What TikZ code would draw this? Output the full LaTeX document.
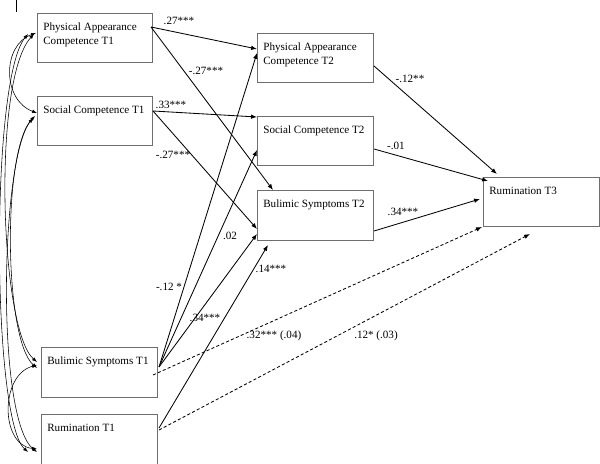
\documentclass[tikz,border=0pt]{standalone}
\usepackage{fontspec}
\setmainfont{Liberation Serif}
\usepackage{tikz}
\usetikzlibrary{arrows.meta}
\definecolor{boxline}{HTML}{6E6E6E}
\definecolor{ink}{HTML}{000000}
\tikzset{
  var/.style={draw=boxline, line width=0.7pt, minimum width=2.875cm, minimum height=1.225cm, anchor=north west, inner sep=0pt},
  vartxt/.style={anchor=north west, align=left, inner sep=0pt, text=ink, font=\fontsize{7.9}{10}\selectfont, xshift=4.3pt, yshift=-6.8pt},
  pth/.style={draw=ink, line width=0.6pt, -{Latex[length=4.2pt,width=3.2pt]}},
  dpth/.style={pth, dash pattern=on 2.2pt off 1.6pt},
  corr/.style={draw=ink, line width=0.4pt, {Latex[length=3.5pt,width=2.6pt]}-{Latex[length=3.5pt,width=2.6pt]}},
  coef/.style={text=ink, font=\fontsize{7.9}{9}\selectfont, inner sep=0.5pt},
}

\begin{document}
\begin{tikzpicture}[x=0.025cm, y=-0.025cm]
  \useasboundingbox (0,0) rectangle (600,464);
  \clip (0,0) rectangle (600,464);

  % T1
  \node[var, label={[vartxt]north west:Physical Appearance\\Competence T1}] (PA1) at (37,13) {};
  \node[var, label={[vartxt]north west:Social Competence T1}] (SC1) at (37,96) {};
  \node[var, minimum width=2.9cm, minimum height=1.25cm, label={[vartxt]north west:Bulimic Symptoms T1}] (BS1) at (41,347) {};
  \node[var, minimum width=2.9cm, minimum height=1.5cm, label={[vartxt]north west:Rumination T1}] (RU1) at (41,414) {};
  % T2
  \node[var, minimum width=2.9cm, label={[vartxt]north west:Physical Appearance\\Competence T2}] (PA2) at (257,33) {};
  \node[var, minimum width=2.9cm, label={[vartxt]north west:Social Competence T2}] (SC2) at (257,116) {};
  \node[var, minimum width=2.9cm, minimum height=1.25cm, label={[vartxt]north west:Bulimic Symptoms T2}] (BS2) at (257,190) {};
  % T3
  \node[var, minimum width=2.9cm, label={[vartxt]north west:Rumination T3}] (RU3) at (483,177) {};

  \draw[draw=ink, line width=0.6pt] (16,0) -- (16,12);

  % T1 -> T2
  \draw[pth] ([shift={(-2,14)}]PA1.north east) -- ([shift={(0,16)}]PA2.north west);
  \draw[pth] ([shift={(-2,14)}]PA1.north east) -- ([shift={(16,0)}]BS2.north west);
  \draw[pth] ([shift={(0,15)}]SC1.north east) -- ([shift={(0,1)}]SC2.north west);
  \draw[pth] ([shift={(0,15)}]SC1.north east) -- ([shift={(0,39)}]BS2.north west);
  \draw[pth] ([shift={(1,20)}]BS1.north east) -- ([shift={(0,20)}]PA2.north west);
  \draw[pth] ([shift={(1,20)}]BS1.north east) -- ([shift={(0,34)}]SC2.north west);
  \draw[pth] ([shift={(1,20)}]BS1.north east) -- ([shift={(0,44)}]BS2.north west);
  \draw[pth] ([shift={(1,14)}]RU1.north east) -- ([shift={(11,4)}]BS2.south west);

  % T2 -> T3
  \draw[pth] ([shift={(0,33)}]PA2.north east) -- ([shift={(14,-3)}]RU3.north west);
  \draw[pth] ([shift={(0,33)}]SC2.north east) -- ([shift={(5,4)}]RU3.north west);
  \draw[pth] ([shift={(0,41)}]BS2.north east) -- ([shift={(-3,22)}]RU3.north west);

  % direct (dashed)
  \draw[dpth] ([shift={(-5,28)}]BS1.north east) -- ([shift={(-1,0)}]RU3.south west);
  \draw[dpth] ([shift={(1,16)}]RU1.north east) -- ([shift={(47,7)}]RU3.south west);

  % T1 correlations
  \draw[corr] ([shift={(-1,20)}]PA1.north west) .. controls (2,45) and (2,100) .. ([shift={(0,17)}]SC1.north west);
  \draw[corr] ([shift={(-3,21)}]PA1.north west) .. controls (-8,80) and (0,330) .. ([shift={(-4,15)}]BS1.north west);
  \draw[corr] ([shift={(-9,21)}]PA1.north west) .. controls (-10,80) and (-8,420) .. ([shift={(-13,38)}]RU1.north west);
  \draw[corr] ([shift={(-2,20)}]SC1.north west) .. controls (2,150) and (4,340) .. ([shift={(-4,21)}]BS1.north west);
  \draw[corr] ([shift={(-4,22)}]SC1.north west) .. controls (0,160) and (-4,420) .. ([shift={(-4,38)}]RU1.north west);
  \draw[corr] ([shift={(-4,18)}]BS1.north west) .. controls (0,375) and (0,445) .. ([shift={(-4,35)}]RU1.north west);

  % coefficients
  \node[coef] (c1) at (179,21) {.27***};
  \node[coef] (c2) at (206,71) {-.27***};
  \node[coef] (c3) at (171,105) {.33***};
  \node[coef] (c4) at (173,155) {-.27***};
  \node[coef] (c5) at (169,287) {-.12 *};
  \node[coef] (c6) at (230,236) {.02};
  \node[coef] (c7) at (205,318) {.34***};
  \node[coef] (c8) at (271,269) {.14***};
  \node[coef] (c9) at (274,336) {.32*** (.04)};
  \node[coef] (c10) at (376,336) {.12* (.03)};
  \node[coef] (c11) at (410,79) {-.12**};
  \node[coef] (c12) at (396,146) {-.01};
  \node[coef] (c13) at (403,212) {.34***};
\end{tikzpicture}
\end{document}
